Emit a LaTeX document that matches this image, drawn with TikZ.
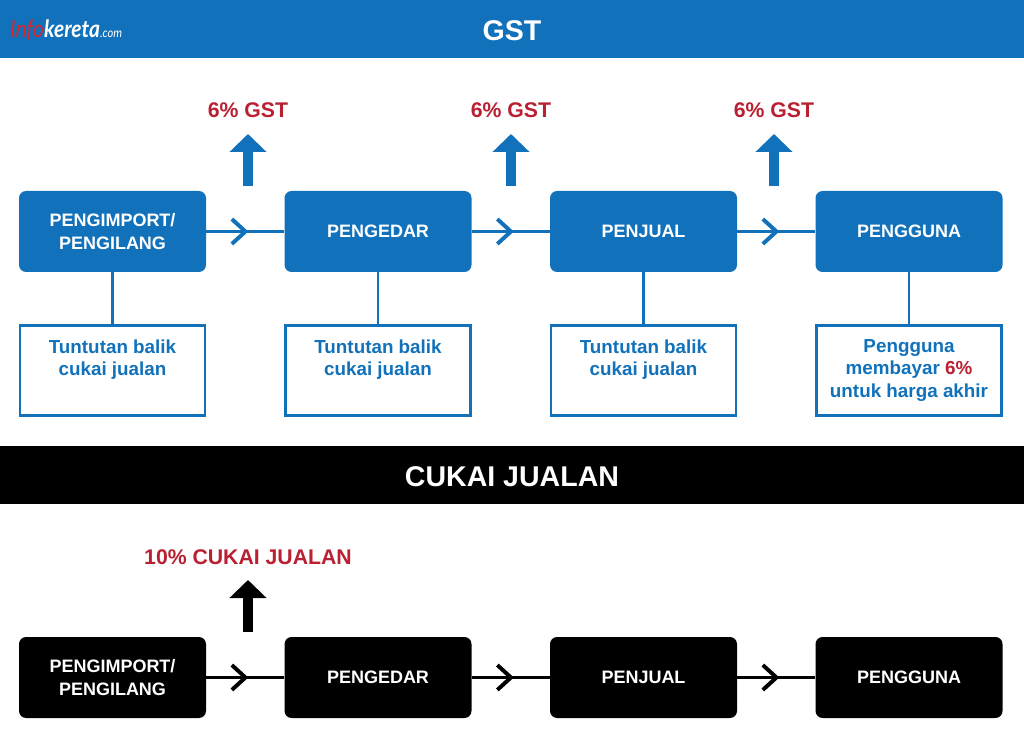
\documentclass[tikz,border=0pt]{standalone}
\usepackage{fontspec}
\setmainfont{Liberation Sans}
\newfontfamily\logofont{Lato}
\usepackage{xcolor}
\usepackage{tikz}
\usetikzlibrary{arrows.meta, decorations.markings}

\definecolor{gstblue}{HTML}{1172BB}
\definecolor{taxred}{HTML}{B92031}
\definecolor{logored}{HTML}{D8262F}

\begin{document}
\begin{tikzpicture}[
  font=\bfseries,
  band/.style     = {draw=none, minimum width=25.6cm, text=white, text height=16.5pt, text depth=0pt,
                     font=\bfseries\fontsize{20.3}{24}\selectfont},
  party/.style    = {draw=none, rounded corners=5pt, minimum width=4.675cm,
                     minimum height=2.025cm, align=center, text=white,
                     font=\bfseries\fontsize{12.8}{16.3}\selectfont},
  gstparty/.style = {party, fill=gstblue},
  salesparty/.style = {party, fill=black},
  claim/.style    = {draw=gstblue, fill=white, line width=2.1pt, minimum width=4.625cm,
                     minimum height=2.25cm, align=center, text=gstblue,
                     font=\bfseries\fontsize{13.4}{16.3}\selectfont},
  rate/.style     = {text=taxred, font=\bfseries\fontsize{15.1}{18}\selectfont},
  flow/.style     = {line width=2.8pt, postaction={decorate}, decoration={markings,
                     mark=at position 0.54 with {\arrow[line width=2.8pt]{Straight Barb[length=3.4mm,width=6.2mm]}}}},
  stub/.style     = {gstblue, line width=2.1pt},
  levy/.style     = {line width=0.25cm, -{Triangle[length=0.45cm,width=0.9cm]}},
]

\useasboundingbox (0,0) rectangle (25.6,-18.6);

%% Header bands
\node[band, fill=gstblue, minimum height=1.45cm] (gsthead) at (12.8, -0.725) {GST};
\node[band, fill=black, minimum height=1.45cm] (saleshead) at (12.8, -11.875) {CUKAI JUALAN};

%% Logo
\node[anchor=west, inner sep=0pt, xscale=0.88, font=\logofont\itshape\fontsize{17}{20}\selectfont]
     (logo) at (0.25, -0.75)
     {\textcolor{logored}{Info}\textcolor{white}{\textbf{kereta}\fontsize{9}{10}\selectfont.com}};

%% GST chain
\node[gstparty] (gstimport) at (2.8125, -5.7875) {PENGIMPORT/\\PENGILANG};
\node[gstparty] (gstdealer) at (9.45, -5.7875) {PENGEDAR};
\node[gstparty] (gstseller) at (16.0875, -5.7875) {PENJUAL};
\node[gstparty] (gstuser)   at (22.725, -5.7875) {PENGGUNA};

\draw[flow, gstblue] (gstimport.east) -- (gstdealer.west);
\draw[flow, gstblue] (gstdealer.east) -- (gstseller.west);
\draw[flow, gstblue] (gstseller.east) -- (gstuser.west);

%% Tax taken at each step
\node[rate] (rate1) at (6.2, -2.75)   {6\% GST};
\node[rate] (rate2) at (12.775, -2.75) {6\% GST};
\node[rate] (rate3) at (19.35, -2.75) {6\% GST};

\coordinate (levy1a) at (6.2, -4.65);
\coordinate (levy1b) at (6.2, -3.35);
\coordinate (levy2a) at (12.775, -4.65);
\coordinate (levy2b) at (12.775, -3.35);
\coordinate (levy3a) at (19.35, -4.65);
\coordinate (levy3b) at (19.35, -3.35);

\draw[levy, gstblue] (levy1a) -- (levy1b);
\draw[levy, gstblue] (levy2a) -- (levy2b);
\draw[levy, gstblue] (levy3a) -- (levy3b);

%% Claim boxes
\node[claim] (claim1) at (2.8125, -9.2625)  {Tuntutan balik\\cukai jualan\\\rule[-2pt]{0pt}{1pt}};
\node[claim] (claim2) at (9.45, -9.2625)    {Tuntutan balik\\cukai jualan\\\rule[-2pt]{0pt}{1pt}};
\node[claim] (claim3) at (16.0875, -9.2625) {Tuntutan balik\\cukai jualan\\\rule[-2pt]{0pt}{1pt}};
\node[claim] (claim4) at (22.725, -9.2625)
     {Pengguna\\membayar \textcolor{taxred}{6\%}\\untuk harga akhir};

\draw[stub] (gstimport.south) -- (claim1.north);
\draw[stub] (gstdealer.south) -- (claim2.north);
\draw[stub] (gstseller.south) -- (claim3.north);
\draw[stub] (gstuser.south)   -- (claim4.north);

%% Sales tax chain
\node[salesparty] (salesimport) at (2.8125, -16.9375) {PENGIMPORT/\\PENGILANG};
\node[salesparty] (salesdealer) at (9.45, -16.9375)   {PENGEDAR};
\node[salesparty] (salesseller) at (16.0875, -16.9375) {PENJUAL};
\node[salesparty] (salesuser)   at (22.725, -16.9375) {PENGGUNA};

\draw[flow] (salesimport.east) -- (salesdealer.west);
\draw[flow] (salesdealer.east) -- (salesseller.west);
\draw[flow] (salesseller.east) -- (salesuser.west);

\node[rate] (rate4) at (6.2, -13.925) {10\% CUKAI JUALAN};
\coordinate (levy4a) at (6.2, -15.8);
\coordinate (levy4b) at (6.2, -14.5);
\draw[levy] (levy4a) -- (levy4b);

\end{tikzpicture}
\end{document}
